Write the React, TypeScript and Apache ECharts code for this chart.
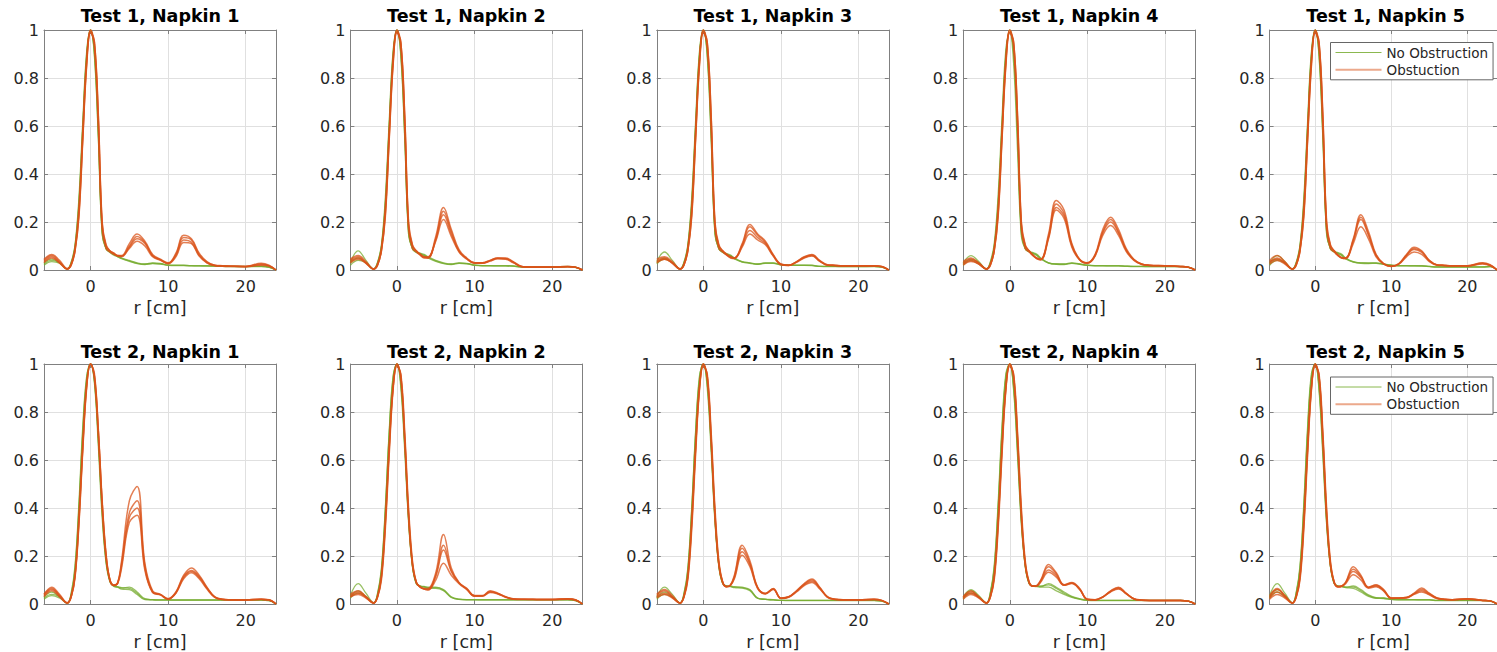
import React, { useEffect, useRef } from "react";
import * as echarts from "echarts";

// r positions [cm] of every sampled point
const X = [-6, -5, -4, -3, -2.5, -2, -1.5, -1, -0.5, 0, 0.5, 1, 1.5, 2, 2.5, 3, 3.5, 4, 5, 6, 7, 8, 9, 10, 11, 12, 13, 14, 15, 16, 17, 18, 20, 22, 23, 23.9];

const panelTitles = [
  "Test 1, Napkin 1", "Test 1, Napkin 2", "Test 1, Napkin 3", "Test 1, Napkin 4", "Test 1, Napkin 5",
  "Test 2, Napkin 1", "Test 2, Napkin 2", "Test 2, Napkin 3", "Test 2, Napkin 4", "Test 2, Napkin 5",
];
const legendNames = ["No Obstruction", "Obstuction"];
const xAxisName = "r [cm]";

// ---------- Test 1 ----------
const t1n1NoObs = [
  [.025,.04,.03,.005, .03,.1,.28,.6,.9,1,.9,.56,.15,.09,.075,.065,.058, .05,.04,.03,.025,.03,.028,.02,.02,.02,.018,.018,.018,.017,.016,.015,.015,.015,.012,0],
  [.03,.045,.03,.004, .028,.095,.27,.59,.89,1,.91,.58,.16,.09,.075,.065,.056, .048,.038,.028,.024,.028,.026,.02,.019,.019,.018,.017,.017,.016,.015,.015,.014,.016,.012,0],
  [.02,.035,.028,.004, .032,.105,.3,.62,.91,1,.89,.55,.15,.088,.073,.062,.055, .047,.036,.027,.023,.027,.025,.019,.018,.018,.017,.017,.016,.016,.015,.014,.014,.014,.011,0],
];
const t1n1Obs = [
  [.04,.06,.035,.005, .02,.08,.23,.55,.86,.99,.94,.62,.18,.1,.08,.07,.06, .06,.11,.15,.12,.065,.045,.03,.07,.145,.13,.07,.035,.02,.018,.017,.015,.028,.02,0],
  [.035,.055,.03,.004, .025,.09,.26,.58,.88,1,.93,.6,.17,.09,.075,.065,.06, .058,.1,.14,.115,.06,.043,.028,.065,.135,.125,.065,.033,.02,.017,.016,.015,.025,.018,0],
  [.045,.065,.04,.006, .02,.085,.24,.56,.87,1,.95,.64,.19,.1,.078,.068,.058, .057,.095,.13,.11,.058,.042,.027,.06,.125,.115,.06,.03,.019,.017,.016,.015,.022,.017,0],
  [.03,.05,.03,.003, .022,.08,.22,.54,.85,.99,.95,.65,.2,.105,.08,.07,.058, .055,.09,.12,.1,.055,.04,.026,.055,.115,.11,.058,.03,.018,.016,.015,.014,.02,.016,0],
];
const t1n2NoObs = [
  [.03,.08,.04,.005, .03,.1,.28,.6,.9,1,.9,.56,.15,.09,.075,.07,.065, .055,.04,.03,.025,.03,.028,.02,.018,.018,.018,.018,.017,.013,.012,.012,.012,.015,.012,0],
  [.03,.05,.03,.004, .028,.095,.27,.59,.89,1,.91,.58,.16,.09,.075,.068,.062, .052,.038,.028,.024,.029,.027,.02,.018,.018,.017,.017,.016,.013,.012,.012,.012,.014,.011,0],
  [.02,.04,.03,.004, .032,.105,.3,.62,.91,1,.89,.55,.15,.088,.073,.066,.06, .05,.036,.027,.023,.028,.026,.019,.017,.017,.017,.017,.016,.012,.012,.011,.011,.014,.011,0],
];
const t1n2Obs = [
  [.04,.055,.03,.004, .02,.08,.23,.55,.86,.99,.94,.62,.18,.1,.08,.065,.055, .05,.14,.26,.17,.085,.05,.03,.03,.04,.05,.05,.035,.016,.013,.012,.012,.015,.012,0],
  [.035,.05,.03,.004, .025,.09,.26,.58,.88,1,.93,.6,.17,.09,.075,.062,.052, .052,.13,.245,.16,.08,.048,.03,.03,.04,.05,.048,.033,.015,.013,.012,.012,.015,.012,0],
  [.045,.06,.035,.005, .02,.085,.24,.56,.87,1,.95,.64,.19,.1,.078,.063,.05, .05,.125,.23,.15,.078,.047,.028,.028,.038,.048,.047,.032,.015,.012,.012,.012,.014,.012,0],
  [.03,.045,.028,.003, .022,.08,.22,.54,.85,.99,.95,.65,.2,.105,.08,.066,.055, .055,.12,.21,.14,.075,.045,.028,.028,.037,.047,.045,.03,.015,.012,.011,.011,.014,.011,0],
];
const t1n3NoObs = [
  [.035,.075,.04,.005, .03,.1,.28,.6,.9,1,.9,.56,.15,.09,.075,.068,.062, .05,.035,.03,.025,.03,.03,.022,.02,.02,.02,.02,.015,.015,.015,.015,.015,.015,.013,0],
  [.03,.05,.03,.004, .028,.095,.27,.59,.89,1,.91,.58,.16,.09,.075,.066,.06, .048,.034,.029,.024,.029,.029,.021,.02,.019,.019,.019,.015,.015,.015,.014,.014,.015,.012,0],
  [.025,.045,.03,.004, .032,.105,.3,.62,.91,1,.89,.55,.15,.088,.073,.064,.058, .046,.033,.028,.024,.028,.028,.021,.019,.019,.019,.018,.015,.014,.014,.014,.014,.014,.012,0],
];
const t1n3Obs = [
  [.04,.05,.03,.004, .02,.08,.23,.55,.86,.99,.94,.62,.18,.1,.08,.065,.055, .05,.11,.19,.15,.12,.065,.025,.02,.035,.055,.065,.04,.022,.02,.018,.018,.018,.015,0],
  [.035,.045,.03,.004, .025,.09,.26,.58,.88,1,.93,.6,.17,.09,.075,.062,.052, .05,.105,.18,.145,.115,.062,.024,.02,.034,.053,.062,.038,.021,.019,.018,.018,.018,.015,0],
  [.045,.055,.035,.005, .02,.085,.24,.56,.87,1,.95,.64,.19,.1,.078,.063,.05, .048,.1,.165,.135,.11,.06,.023,.019,.033,.052,.06,.037,.02,.019,.017,.017,.017,.014,0],
  [.03,.045,.028,.003, .022,.08,.22,.54,.85,.99,.95,.65,.2,.105,.08,.066,.055, .048,.095,.15,.125,.105,.058,.022,.019,.032,.05,.058,.036,.02,.018,.017,.017,.017,.014,0],
];
const t1n4NoObs = [
  [.03,.06,.035,.005, .03,.1,.28,.6,.9,1,.9,.56,.15,.09,.078,.072,.065, .05,.03,.025,.025,.03,.025,.02,.018,.018,.018,.018,.016,.015,.015,.015,.015,.015,.012,0],
  [.025,.045,.03,.004, .028,.095,.27,.59,.89,1,.91,.58,.16,.09,.076,.07,.062, .048,.03,.025,.024,.029,.024,.02,.018,.018,.017,.017,.016,.015,.015,.014,.014,.014,.012,0],
  [.02,.04,.025,.003, .035,.11,.31,.63,.92,.99,.86,.5,.14,.088,.075,.068,.06, .046,.029,.024,.023,.028,.024,.019,.017,.017,.017,.017,.015,.014,.014,.014,.014,.014,.011,0],
];
const t1n4Obs = [
  [.03,.045,.03,.004, .02,.08,.23,.55,.86,.99,.94,.62,.18,.1,.08,.062,.05, .045,.15,.29,.25,.11,.045,.03,.065,.17,.22,.17,.09,.045,.025,.02,.018,.015,.012,0],
  [.025,.04,.025,.003, .025,.09,.26,.58,.88,1,.93,.6,.17,.09,.075,.06,.048, .045,.14,.275,.235,.105,.045,.03,.062,.16,.21,.16,.085,.043,.025,.02,.018,.015,.012,0],
  [.035,.05,.03,.005, .02,.085,.24,.56,.87,1,.95,.64,.19,.1,.078,.06,.047, .043,.135,.26,.225,.1,.043,.028,.06,.155,.2,.155,.082,.042,.024,.019,.017,.015,.012,0],
  [.02,.035,.025,.003, .022,.08,.22,.54,.85,.99,.95,.65,.2,.105,.08,.062,.048, .042,.13,.25,.215,.095,.042,.028,.058,.145,.185,.145,.078,.04,.023,.019,.017,.014,.011,0],
];
const t1n5NoObs = [
  [.03,.06,.035,.005, .03,.1,.28,.6,.9,1,.9,.56,.15,.09,.078,.072,.065, .05,.035,.03,.03,.03,.025,.02,.018,.018,.018,.018,.015,.013,.013,.013,.013,.013,.015,0],
  [.025,.045,.03,.004, .028,.095,.27,.59,.89,1,.91,.58,.16,.09,.076,.07,.062, .048,.034,.03,.028,.029,.024,.02,.018,.018,.017,.017,.015,.013,.013,.013,.013,.013,.014,0],
  [.02,.04,.028,.004, .032,.105,.3,.62,.91,1,.89,.55,.15,.088,.074,.068,.06, .046,.033,.028,.027,.028,.023,.019,.017,.017,.017,.016,.014,.012,.012,.012,.012,.012,.014,0],
];
const t1n5Obs = [
  [.04,.06,.035,.005, .02,.08,.23,.55,.86,.99,.94,.62,.18,.1,.08,.062,.052, .05,.13,.23,.16,.065,.027,.016,.027,.065,.095,.08,.04,.022,.02,.018,.018,.03,.022,0],
  [.03,.05,.03,.004, .025,.09,.26,.58,.88,1,.93,.6,.17,.09,.075,.06,.05, .05,.125,.22,.15,.062,.026,.016,.026,.062,.09,.077,.039,.021,.019,.018,.018,.028,.02,0],
  [.035,.045,.03,.004, .02,.085,.24,.56,.87,1,.95,.64,.19,.1,.078,.06,.05, .048,.12,.21,.145,.06,.025,.015,.025,.06,.085,.073,.038,.021,.019,.018,.017,.027,.02,0],
  [.025,.04,.025,.003, .022,.08,.22,.54,.85,.99,.95,.65,.2,.105,.08,.062,.05, .048,.11,.18,.13,.055,.024,.015,.024,.055,.075,.065,.035,.02,.018,.017,.017,.025,.018,0],
];

// ---------- Test 2 ----------
const t2n1NoObs = [
  [.025,.04,.03,.004, .04,.15,.4,.72,.94,1,.93,.68,.38,.18,.095,.075,.072, .068,.065,.045,.02,.018,.017,.017,.017,.017,.017,.017,.017,.017,.017,.017,.017,.017,.015,0],
  [.03,.05,.03,.004, .045,.16,.42,.74,.95,1,.92,.66,.36,.17,.092,.073,.07, .066,.07,.05,.022,.018,.017,.017,.016,.016,.016,.016,.016,.016,.016,.016,.016,.016,.014,0],
  [.02,.035,.025,.003, .038,.14,.39,.71,.93,1,.93,.69,.39,.18,.095,.076,.07, .062,.06,.04,.018,.017,.016,.016,.016,.016,.016,.016,.016,.016,.016,.016,.016,.016,.014,0],
];
const t2n1Obs = [
  [.04,.07,.04,.005, .03,.12,.35,.66,.91,1,.95,.72,.42,.2,.1,.078,.09, .18,.43,.49,.17,.055,.04,.022,.05,.12,.15,.12,.07,.03,.02,.018,.017,.02,.018,0],
  [.035,.06,.035,.004, .032,.12,.36,.67,.92,1,.94,.7,.4,.19,.098,.077,.088, .17,.38,.43,.16,.05,.04,.022,.048,.115,.14,.115,.068,.03,.02,.018,.017,.02,.018,0],
  [.03,.055,.03,.004, .028,.11,.33,.64,.9,1,.96,.73,.43,.21,.1,.079,.088, .16,.36,.4,.15,.05,.038,.02,.046,.11,.135,.11,.065,.029,.019,.018,.017,.02,.017,0],
  [.04,.065,.035,.005, .03,.115,.34,.65,.91,1,.95,.72,.42,.2,.1,.078,.086, .15,.34,.37,.14,.048,.038,.02,.045,.105,.13,.105,.062,.028,.019,.017,.017,.019,.017,0],
];
const t2n2NoObs = [
  [.035,.085,.045,.005, .04,.14,.39,.71,.94,1,.92,.66,.35,.16,.085,.075,.073, .07,.07,.06,.03,.02,.018,.018,.018,.018,.018,.018,.018,.018,.018,.018,.018,.018,.015,0],
  [.03,.055,.03,.004, .045,.15,.4,.72,.95,1,.9,.64,.34,.155,.084,.074,.072, .068,.068,.058,.028,.019,.018,.018,.017,.017,.017,.017,.017,.017,.017,.017,.017,.017,.014,0],
  [.025,.045,.03,.004, .038,.135,.38,.7,.93,1,.92,.67,.36,.16,.086,.075,.07, .065,.065,.055,.027,.019,.017,.017,.017,.017,.017,.017,.017,.017,.017,.017,.017,.017,.014,0],
];
const t2n2Obs = [
  [.035,.05,.03,.004, .03,.11,.33,.64,.9,1,.95,.7,.38,.17,.09,.072,.065, .065,.13,.29,.15,.09,.065,.035,.035,.055,.045,.03,.022,.02,.02,.02,.02,.022,.018,0],
  [.03,.045,.028,.003, .032,.12,.35,.66,.91,1,.94,.68,.36,.16,.088,.07,.064, .06,.12,.245,.14,.088,.063,.034,.034,.052,.044,.03,.021,.02,.02,.019,.019,.022,.018,0],
  [.04,.055,.032,.005, .028,.1,.31,.62,.89,.99,.96,.72,.4,.18,.092,.07,.062, .06,.115,.225,.135,.087,.062,.033,.033,.05,.043,.029,.021,.02,.019,.019,.019,.021,.017,0],
  [.03,.04,.025,.003, .03,.115,.34,.65,.9,1,.95,.69,.37,.165,.09,.07,.062, .058,.1,.17,.12,.085,.06,.032,.032,.048,.042,.028,.02,.019,.019,.018,.018,.02,.017,0],
];
const t2n3NoObs = [
  [.03,.07,.04,.005, .04,.14,.39,.71,.94,1,.92,.66,.35,.16,.085,.075,.074, .072,.07,.06,.025,.02,.018,.015,.015,.015,.015,.015,.015,.015,.015,.015,.015,.015,.013,0],
  [.025,.05,.03,.004, .045,.15,.4,.72,.95,1,.9,.64,.34,.155,.084,.074,.072, .07,.068,.058,.024,.019,.017,.015,.015,.015,.015,.015,.015,.015,.015,.015,.015,.015,.012,0],
  [.02,.04,.028,.003, .038,.135,.38,.7,.93,1,.92,.67,.36,.16,.086,.075,.073, .068,.066,.055,.023,.019,.017,.015,.014,.014,.014,.014,.014,.014,.014,.014,.014,.014,.012,0],
];
const t2n3Obs = [
  [.035,.055,.03,.004, .03,.11,.33,.64,.9,1,.95,.7,.38,.17,.09,.072,.08, .12,.245,.18,.07,.045,.065,.025,.03,.055,.085,.104,.07,.03,.02,.018,.018,.02,.015,0],
  [.03,.045,.028,.003, .032,.12,.35,.66,.91,1,.94,.68,.36,.16,.088,.072,.079, .115,.232,.17,.068,.044,.063,.024,.03,.054,.083,.1,.068,.03,.02,.018,.018,.02,.015,0],
  [.04,.06,.035,.005, .028,.1,.31,.62,.89,.99,.96,.72,.4,.18,.092,.073,.078, .11,.218,.165,.066,.043,.062,.024,.029,.052,.08,.095,.066,.029,.019,.017,.017,.019,.014,0],
  [.025,.04,.025,.003, .03,.115,.34,.65,.9,1,.95,.69,.37,.165,.09,.072,.078, .105,.203,.155,.064,.042,.06,.023,.028,.05,.077,.09,.063,.028,.019,.017,.017,.019,.014,0],
];
const t2n4NoObs = [
  [.03,.06,.035,.005, .045,.15,.4,.72,.95,1,.9,.64,.34,.16,.085,.075,.075, .075,.08,.065,.045,.03,.02,.015,.015,.015,.015,.015,.015,.015,.015,.015,.015,.015,.012,0],
  [.025,.055,.03,.004, .048,.16,.42,.74,.96,1,.89,.62,.33,.155,.084,.075,.074, .072,.085,.07,.05,.032,.022,.016,.015,.015,.015,.015,.015,.015,.015,.015,.015,.015,.012,0],
  [.02,.045,.028,.003, .042,.145,.39,.71,.94,1,.91,.65,.35,.16,.086,.074,.072, .07,.07,.055,.04,.028,.02,.015,.014,.014,.014,.014,.014,.014,.014,.014,.014,.014,.012,0],
];
const t2n4Obs = [
  [.025,.05,.03,.004, .03,.11,.33,.64,.9,1,.95,.7,.38,.17,.09,.075,.078, .1,.165,.13,.08,.09,.065,.02,.018,.03,.055,.07,.045,.022,.017,.015,.015,.015,.012,0],
  [.03,.045,.028,.004, .032,.12,.35,.66,.91,1,.94,.68,.36,.16,.088,.074,.077, .098,.155,.125,.08,.088,.063,.02,.018,.03,.054,.068,.044,.022,.017,.015,.015,.015,.012,0],
  [.02,.04,.025,.003, .028,.1,.31,.62,.89,.99,.96,.72,.4,.18,.092,.075,.076, .095,.142,.118,.078,.086,.062,.019,.017,.029,.052,.065,.043,.021,.016,.015,.015,.015,.012,0],
  [.03,.055,.03,.005, .03,.115,.34,.65,.9,1,.95,.69,.37,.165,.09,.074,.075, .092,.132,.112,.078,.085,.06,.019,.017,.029,.05,.063,.042,.021,.016,.015,.015,.015,.012,0],
];
const t2n5NoObs = [
  [.035,.085,.045,.005, .045,.15,.4,.72,.95,1,.9,.64,.34,.16,.085,.075,.074, .07,.07,.055,.035,.025,.025,.02,.018,.018,.018,.018,.018,.015,.015,.015,.015,.015,.013,0],
  [.03,.06,.035,.004, .048,.16,.42,.74,.96,1,.89,.62,.33,.155,.084,.075,.073, .07,.075,.06,.038,.026,.024,.019,.018,.018,.018,.017,.017,.015,.015,.015,.015,.015,.013,0],
  [.025,.05,.03,.004, .042,.145,.39,.71,.94,1,.91,.65,.35,.16,.086,.074,.072, .068,.065,.05,.032,.024,.023,.019,.017,.017,.017,.017,.017,.014,.014,.014,.014,.014,.012,0],
];
const t2n5Obs = [
  [.03,.06,.035,.004, .03,.11,.33,.64,.9,1,.95,.7,.38,.17,.09,.072,.075, .09,.155,.12,.07,.08,.06,.025,.025,.028,.045,.067,.045,.025,.02,.018,.022,.015,.013,0],
  [.025,.05,.03,.004, .032,.12,.35,.66,.91,1,.94,.68,.36,.16,.088,.071,.074, .09,.145,.115,.07,.078,.058,.025,.025,.027,.043,.06,.043,.025,.02,.018,.022,.015,.013,0],
  [.035,.065,.035,.005, .028,.1,.31,.62,.89,.99,.96,.72,.4,.18,.092,.073,.075, .088,.135,.11,.068,.075,.056,.024,.024,.026,.042,.055,.04,.024,.019,.018,.021,.015,.013,0],
  [.02,.04,.025,.003, .03,.115,.34,.65,.9,1,.95,.69,.37,.165,.09,.072,.074, .085,.122,.1,.066,.072,.054,.023,.024,.025,.04,.05,.038,.023,.019,.017,.02,.015,.013,0],
];

const noObsSets = [t1n1NoObs, t1n2NoObs, t1n3NoObs, t1n4NoObs, t1n5NoObs, t2n1NoObs, t2n2NoObs, t2n3NoObs, t2n4NoObs, t2n5NoObs];
const obsSets = [t1n1Obs, t1n2Obs, t1n3Obs, t1n4Obs, t1n5Obs, t2n1Obs, t2n2Obs, t2n3Obs, t2n4Obs, t2n5Obs];

const FONT = "DejaVu Sans";
const GREEN = "#77AC30";
const ORANGE = "#D95319";
const AXIS_C = "#808080";
const GRID_C = "#e0e0e0";
const TEXT_C = "#262626";

const GRID_LEFT0 = 44;
const GRID_STEP = 306.4;
const GRID_W = 232;
const ROW_TOP = [30, 364];
const ROW_H = [240, 241];
const TITLE_Y = [16, 351.5];

function buildOption(): any {
  const grid: any[] = [];
  const xAxis: any[] = [];
  const yAxis: any[] = [];
  const series: any[] = [];
  const graphic: any[] = [];
  const n = panelTitles.length;
  const topX: any[] = [];
  const rightY: any[] = [];

  for (let i = 0; i < n; i++) {
    const row = Math.floor(i / 5);
    const col = i % 5;
    const left = GRID_LEFT0 + col * GRID_STEP;
    grid.push({ left, top: ROW_TOP[row], width: GRID_W, height: ROW_H[row], containLabel: false });
    const xBase = {
      gridIndex: i, type: "value", min: -6, max: 23.9, minInterval: 10, maxInterval: 10,
      axisLine: { show: true, onZero: false, lineStyle: { color: AXIS_C, width: 1 } },
      axisTick: { show: true, inside: true, length: 4, lineStyle: { color: AXIS_C, width: 1 } },
    };
    xAxis.push({
      ...xBase, position: "bottom",
      axisLabel: { show: true, fontSize: 16, color: TEXT_C, fontFamily: FONT, margin: 8, showMinLabel: false, showMaxLabel: false },
      splitLine: { show: true, lineStyle: { color: GRID_C, width: 1 } },
      name: xAxisName, nameLocation: "middle", nameGap: 29,
      nameTextStyle: { fontSize: 17.5, color: TEXT_C, fontFamily: FONT },
    });
    topX.push({ ...xBase, position: "top", axisLabel: { show: false }, splitLine: { show: false } });
    const yBase = {
      gridIndex: i, type: "value", min: 0, max: 1, interval: 0.2,
      axisLine: { show: true, onZero: false, lineStyle: { color: AXIS_C, width: 1 } },
      axisTick: { show: true, inside: true, length: 4, lineStyle: { color: AXIS_C, width: 1 } },
    };
    yAxis.push({
      ...yBase, position: "left",
      axisLabel: { show: true, fontSize: 16, color: TEXT_C, fontFamily: FONT, margin: 5 },
      splitLine: { show: true, lineStyle: { color: GRID_C, width: 1 } },
    });
    rightY.push({ ...yBase, position: "right", axisLabel: { show: false }, splitLine: { show: false } });

    graphic.push({
      type: "text", x: left + GRID_W / 2, y: TITLE_Y[row], silent: true,
      style: { text: panelTitles[i], fontSize: 17.5, fontWeight: "bold", fontFamily: FONT, fill: "#000", align: "center", verticalAlign: "middle" },
    });

    const mk = (name: string, color: string, width: number, opacity: number, ys: number[]) => ({
      type: "line", name, xAxisIndex: i, yAxisIndex: i,
      data: X.map((x, k) => [x, ys[k]]),
      showSymbol: false, symbol: "none", smooth: 0.4, silent: true,
      lineStyle: { color, width, opacity }, itemStyle: { color },
      emphasis: { disabled: true }, z: 2,
    });
    noObsSets[i].forEach((ys) => series.push(mk(legendNames[0], GREEN, 1.3, 0.75, ys)));
    obsSets[i].forEach((ys) => series.push(mk(legendNames[1], ORANGE, 1.5, 0.75, ys)));
  }

  const hiddenSymbol = { color: "rgba(0,0,0,0)", borderWidth: 0, opacity: 0 };
  const legendBase = {
    orient: "vertical", left: 1330.5, itemWidth: 46, itemHeight: 14, itemGap: 3.3,
    padding: [3, 5, 3, 4], backgroundColor: "#fff", borderColor: "#666", borderWidth: 1,
    selectedMode: false, textStyle: { fontSize: 13.5, color: TEXT_C, fontFamily: FONT },
    data: [
      { name: legendNames[0], itemStyle: hiddenSymbol, lineStyle: { color: GREEN, width: 1, opacity: 0.85 } },
      { name: legendNames[1], itemStyle: hiddenSymbol, lineStyle: { color: ORANGE, width: 2, opacity: 0.5 } },
    ],
  };

  return {
    animation: false,
    backgroundColor: "#fff",
    grid,
    xAxis: [...xAxis, ...topX],
    yAxis: [...yAxis, ...rightY],
    legend: [
      { ...legendBase, top: 42.5 },
      { ...legendBase, top: 377 },
    ],
    graphic,
    series,
  };
}

export default function App() {
  const ref = useRef<HTMLDivElement>(null);
  useEffect(() => {
    if (!ref.current) return;
    const chart = echarts.init(ref.current, undefined, { renderer: "svg" });
    chart.setOption(buildOption());
    return () => chart.dispose();
  }, []);
  return (
    <div
      ref={ref}
      style={{ position: "fixed", left: 0, top: 0, width: 1497, height: 652, background: "#fff" }}
    />
  );
}
